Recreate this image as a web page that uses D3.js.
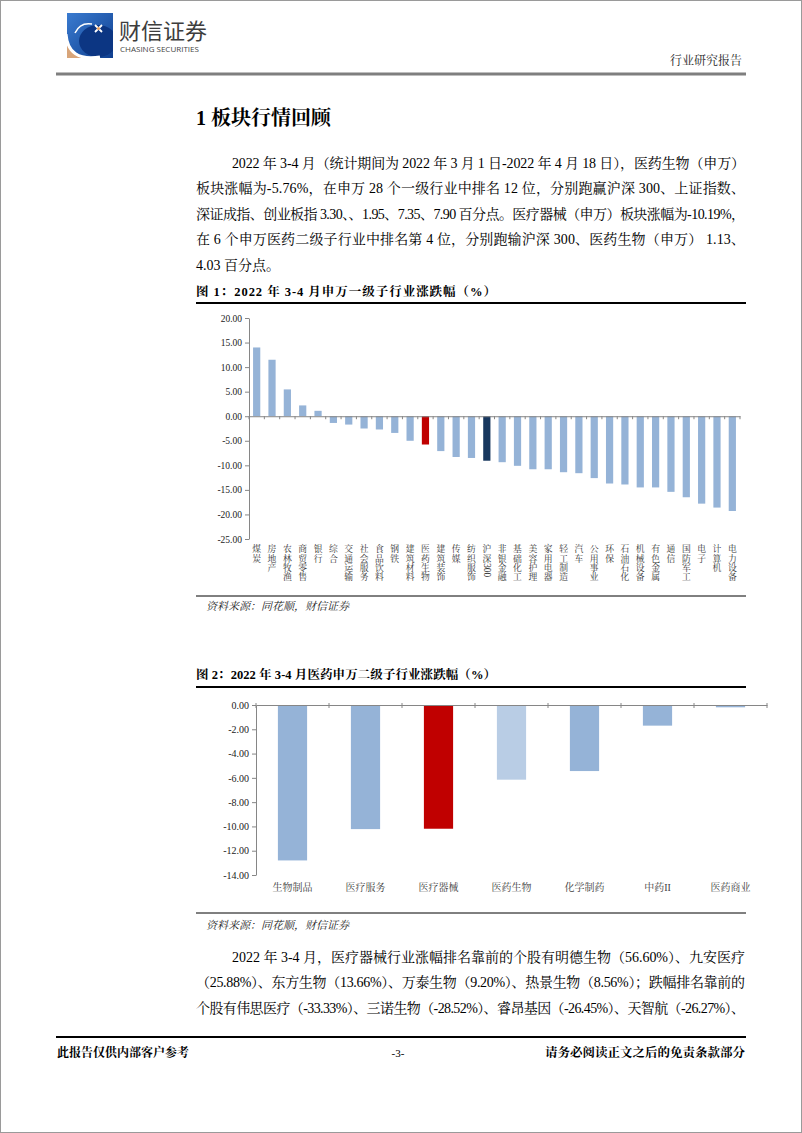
<!DOCTYPE html>
<html><head><meta charset="utf-8">
<script src="https://cdn.jsdelivr.net/npm/d3@7"></script>
<style>
html,body{margin:0;padding:0;background:#fff;}
svg{display:block;}
</style></head><body>
<svg id="page" width="802" height="1133"></svg>
<script>
// ---------- DATA ----------
const industries = ["煤炭","房地产","农林牧渔","商贸零售","银行","综合","交通运输","社会服务","食品饮料","钢铁","建筑材料","医药生物","建筑装饰","传媒","纺织服饰","沪深300","非银金融","基础化工","美容护理","家用电器","轻工制造","汽车","公用事业","环保","石油石化","机械设备","有色金属","通信","国防军工","电子","计算机","电力设备"];
const industryChange = [14.0,11.5,5.46,2.2,1.1,-1.37,-1.7,-2.5,-2.7,-3.4,-5.0,-5.76,-7.1,-8.3,-8.5,-9.06,-9.36,-10.1,-10.8,-10.8,-11.4,-11.6,-12.6,-13.7,-13.9,-14.5,-14.5,-15.4,-16.5,-17.8,-18.6,-19.3];
const yTicks1 = [20,15,10,5,0,-5,-10,-15,-20,-25];

const subIndustries = ["生物制品","医疗服务","医疗器械","医药生物","化学制药","中药II","医药商业"];
const subChange = [-12.8,-10.22,-10.19,-6.15,-5.44,-1.70,-0.19];
const yTicks2 = [0,-2,-4,-6,-8,-10,-12,-14];

const para1 = [
  "2022 年 3-4 月（统计期间为 2022 年 3 月 1 日-2022 年 4 月 18 日），医药生物（申万）",
  "板块涨幅为-5.76%，在申万 28 个一级行业中排名 12 位，分别跑赢沪深 300、上证指数、",
  "深证成指、创业板指 3.30、、1.95、7.35、7.90 百分点。医疗器械（申万）板块涨幅为-10.19%，",
  "在 6 个申万医药二级子行业中排名第 4 位，分别跑输沪深 300、医药生物（申万） 1.13、",
  "4.03 百分点。"
];
const para2 = [
  "2022 年 3-4 月，医疗器械行业涨幅排名靠前的个股有明德生物（56.60%）、九安医疗",
  "（25.88%）、东方生物（13.66%）、万泰生物（9.20%）、热景生物（8.56%）；跌幅排名靠前的",
  "个股有伟思医疗（-33.33%）、三诺生物（-28.52%）、睿昂基因（-26.45%）、天智航（-26.27%）、"
];

// ---------- STYLE ----------
const SERIF = "'Liberation Serif','Noto Serif CJK SC','Noto Sans CJK SC',serif";
const CJK = "'Noto Sans CJK SC','Noto Sans',sans-serif";
const BAR = "#95B3D7", RED = "#C00000", NAVY = "#17375E", LIGHT = "#B9CDE5", AXIS = "#868686";

const svg = d3.select("#page");
svg.append("rect").attr("x",0.5).attr("y",0.5).attr("width",801).attr("height",1132)
  .attr("fill","#fff").attr("stroke","#9a9a9a");

// ---------- HEADER ----------
const defs = svg.append("defs");
const g1 = defs.append("linearGradient").attr("id","lg").attr("x1","0").attr("y1","0").attr("x2","1").attr("y2","1");
g1.append("stop").attr("offset","0").attr("stop-color","#3a7bd0");
g1.append("stop").attr("offset","1").attr("stop-color","#0f3f8f");
defs.append("clipPath").attr("id","logoclip").append("rect").attr("x",67).attr("y",13).attr("width",46).attr("height",45);
const logo = svg.append("g").attr("clip-path","url(#logoclip)");
logo.append("rect").attr("x",67).attr("y",13).attr("width",46).attr("height",45).attr("fill","url(#lg)");
logo.append("ellipse").attr("cx",98).attr("cy",41).attr("rx",19).attr("ry",16).attr("fill","#0c3683");
logo.append("path").attr("d","M67,40 Q71,58 92,58 L67,58 Z").attr("fill","#d8a57a");
logo.append("path").attr("d","M66,34 Q68,62 100,57").attr("fill","none").attr("stroke","#fff").attr("stroke-width",3);
logo.append("path").attr("d","M75,33 Q80,22 92,24").attr("fill","none").attr("stroke","#fff").attr("stroke-width",1.5);
logo.append("path").attr("d","M95,25 L102,32 M102,25 L95,32").attr("stroke","#fff").attr("stroke-width",1.8);
logo.append("circle").attr("cx",98.5).attr("cy",28.5).attr("r",1.6).attr("fill","#e8a060");
svg.append("text").attr("x",119).attr("y",29).attr("dominant-baseline","central")
  .attr("font-family",CJK).attr("font-size",22).attr("fill","#3d3d3d").text("财信证券");
svg.append("text").attr("x",120).attr("y",48.5).attr("dominant-baseline","central")
  .attr("font-family","'Open Sans',sans-serif").attr("font-size",8).attr("fill","#444").text("CHASING SECURITIES");
svg.append("text").attr("x",742).attr("y",61).attr("dominant-baseline","central").attr("text-anchor","end")
  .attr("font-family",SERIF).attr("font-size",12).attr("fill","#222").text("行业研究报告");
svg.append("line").attr("x1",56).attr("x2",746).attr("y1",74).attr("y2",74).attr("stroke","#7f7f7f").attr("stroke-width",3);

// ---------- TEXT ----------
svg.append("text").attr("x",196).attr("y",118).attr("dominant-baseline","central")
  .attr("font-family",SERIF).attr("font-weight","bold").attr("font-size",20).attr("fill","#000")
  .text("1 板块行情回顾");

function paragraph(lines, y0, justifyLast){
  lines.forEach((t,i)=>{
    const x = i===0 ? 232 : 196;
    const txt = svg.append("text").attr("x",x).attr("y",y0 + i*25.5).attr("dominant-baseline","central")
      .attr("font-family",SERIF).attr("font-size",14).attr("fill","#000").text(t);
    if (i < lines.length-1 || justifyLast) txt.attr("textLength",745-x).attr("lengthAdjust","spacing");
  });
}
paragraph(para1, 163, false);
paragraph(para2, 957, true);

function figTitle(t, y){
  svg.append("text").attr("x",196).attr("y",y).attr("dominant-baseline","central")
    .attr("font-family",SERIF).attr("font-weight","bold").attr("font-size",12.5).attr("fill","#000")
    .attr("textLength",300).attr("lengthAdjust","spacing").text(t);
}
figTitle("图 1：2022 年 3-4 月申万一级子行业涨跌幅（%）", 292);
svg.append("line").attr("x1",196).attr("x2",746).attr("y1",303).attr("y2",303).attr("stroke","#000").attr("stroke-width",2);
svg.append("line").attr("x1",196).attr("x2",746).attr("y1",596).attr("y2",596).attr("stroke","#000").attr("stroke-width",1);
function source(y){
  svg.append("text").attr("x",206).attr("y",y).attr("dominant-baseline","central")
    .attr("font-family",SERIF).attr("font-style","italic").attr("font-size",11).attr("fill","#222")
    .text("资料来源：同花顺，财信证券");
}
source(606);
figTitle("图 2：2022 年 3-4 月医药申万二级子行业涨跌幅（%）", 675);
svg.append("line").attr("x1",196).attr("x2",746).attr("y1",687).attr("y2",687).attr("stroke","#000").attr("stroke-width",2);
svg.append("line").attr("x1",196).attr("x2",746).attr("y1",913).attr("y2",913).attr("stroke","#000").attr("stroke-width",1);
source(925);

// ---------- FOOTER ----------
svg.append("line").attr("x1",56).attr("x2",746).attr("y1",1037).attr("y2",1037).attr("stroke","#000").attr("stroke-width",2);
svg.append("text").attr("x",57).attr("y",1053).attr("dominant-baseline","central")
  .attr("font-family",SERIF).attr("font-weight","bold").attr("font-size",12).text("此报告仅供内部客户参考");
svg.append("text").attr("x",398).attr("y",1053).attr("dominant-baseline","central").attr("text-anchor","middle")
  .attr("font-family",SERIF).attr("font-size",11).text("-3-");
svg.append("text").attr("x",745).attr("y",1053).attr("dominant-baseline","central").attr("text-anchor","end")
  .attr("font-family",SERIF).attr("font-weight","bold").attr("font-size",12.5).text("请务必阅读正文之后的免责条款部分");

// ---------- CHART 1 ----------
const p1 = 0.53;
const x1 = d3.scaleBand().domain(industries).range([249,740]).paddingInner(p1).paddingOuter(p1/2);
const y1 = d3.scaleLinear().domain([-25,20]).range([539,318]);
const c1 = svg.append("g");
c1.selectAll("rect.bar").data(industries).join("rect").attr("class","bar")
  .attr("x",d=>x1(d)).attr("width",x1.bandwidth())
  .attr("y",(d,i)=>Math.min(y1(0),y1(industryChange[i])))
  .attr("height",(d,i)=>Math.abs(y1(industryChange[i])-y1(0)))
  .attr("fill",d=>d==="医药生物"?RED:(d==="沪深300"?NAVY:BAR));
const ya1 = c1.append("g").attr("transform","translate(249,0)")
  .call(d3.axisLeft(y1).tickValues(yTicks1).tickFormat(d=>d.toFixed(2)).tickSize(4).tickSizeOuter(0));
ya1.select(".domain").attr("stroke",AXIS);
ya1.selectAll(".tick line").attr("stroke",AXIS);
ya1.selectAll(".tick text").attr("font-family",SERIF).attr("font-size",9.5).attr("fill","#222").attr("x",-7);
const xa1 = c1.append("g").attr("transform",`translate(0,${y1(0)})`)
  .call(d3.axisBottom(x1).tickSize(0).tickFormat(""));
xa1.select(".domain").attr("stroke",AXIS);
c1.selectAll("line.xt").data(d3.range(industries.length+1)).join("line").attr("class","xt")
  .attr("x1",i=>x1.range()[0]+i*x1.step()).attr("x2",i=>x1.range()[0]+i*x1.step())
  .attr("y1",y1(0)).attr("y2",y1(0)+3).attr("stroke",AXIS);

// vertical stacked category labels (CJK upright, Latin runs rotated)
const FS1 = 8.8;
industries.forEach(label=>{
  const cx = x1(label)+x1.bandwidth()/2;
  let cur = 545;
  const tokens = label.match(/[\x00-\x7F]+|./gu);
  tokens.forEach(tok=>{
    if (/^[\x00-\x7F]+$/.test(tok)) {
      const t = c1.append("text").attr("transform",`translate(${cx},${cur}) rotate(90)`)
        .attr("dominant-baseline","central").attr("font-family",SERIF).attr("font-size",FS1+0.5)
        .attr("fill","#333").text(tok);
      cur += t.node().getComputedTextLength() + 1;
    } else {
      c1.append("text").attr("x",cx).attr("y",cur+FS1/2).attr("text-anchor","middle")
        .attr("dominant-baseline","central").attr("font-family",SERIF).attr("font-size",FS1)
        .attr("fill","#333").text(tok);
      cur += FS1 + 0.3;
    }
  });
});

// ---------- CHART 2 ----------
const p2 = 0.6;
const x2 = d3.scaleBand().domain(subIndustries).range([256,767]).paddingInner(p2).paddingOuter(p2/2);
const y2 = d3.scaleLinear().domain([-14,0]).range([875,705]);
const c2 = svg.append("g");
c2.selectAll("rect.bar").data(subIndustries).join("rect").attr("class","bar")
  .attr("x",d=>x2(d)).attr("width",x2.bandwidth())
  .attr("y",y2(0)).attr("height",(d,i)=>Math.abs(y2(subChange[i])-y2(0)))
  .attr("fill",d=>d==="医疗器械"?RED:(d==="医药生物"?LIGHT:BAR));
const ya2 = c2.append("g").attr("transform","translate(256,0)")
  .call(d3.axisLeft(y2).tickValues(yTicks2).tickFormat(d=>d.toFixed(2)).tickSize(4).tickSizeOuter(0));
ya2.select(".domain").attr("stroke",AXIS);
ya2.selectAll(".tick line").attr("stroke",AXIS);
ya2.selectAll(".tick text").attr("font-family",SERIF).attr("font-size",10).attr("fill","#222").attr("x",-7);
const xa2 = c2.append("g").attr("transform",`translate(0,${y2(0)})`)
  .call(d3.axisBottom(x2).tickSize(0).tickFormat(""));
xa2.select(".domain").attr("stroke",AXIS);
c2.selectAll("line.xt").data(d3.range(subIndustries.length+1)).join("line").attr("class","xt")
  .attr("x1",i=>x2.range()[0]+i*x2.step()).attr("x2",i=>x2.range()[0]+i*x2.step())
  .attr("y1",y2(0)-2).attr("y2",y2(0)+3).attr("stroke",AXIS);
c2.selectAll("text.cat").data(subIndustries).join("text").attr("class","cat")
  .attr("x",d=>x2(d)+x2.bandwidth()/2).attr("y",887).attr("text-anchor","middle").attr("dominant-baseline","central")
  .attr("font-family",SERIF).attr("font-size",10).attr("fill","#404040").text(d=>d);
</script>
</body></html>
